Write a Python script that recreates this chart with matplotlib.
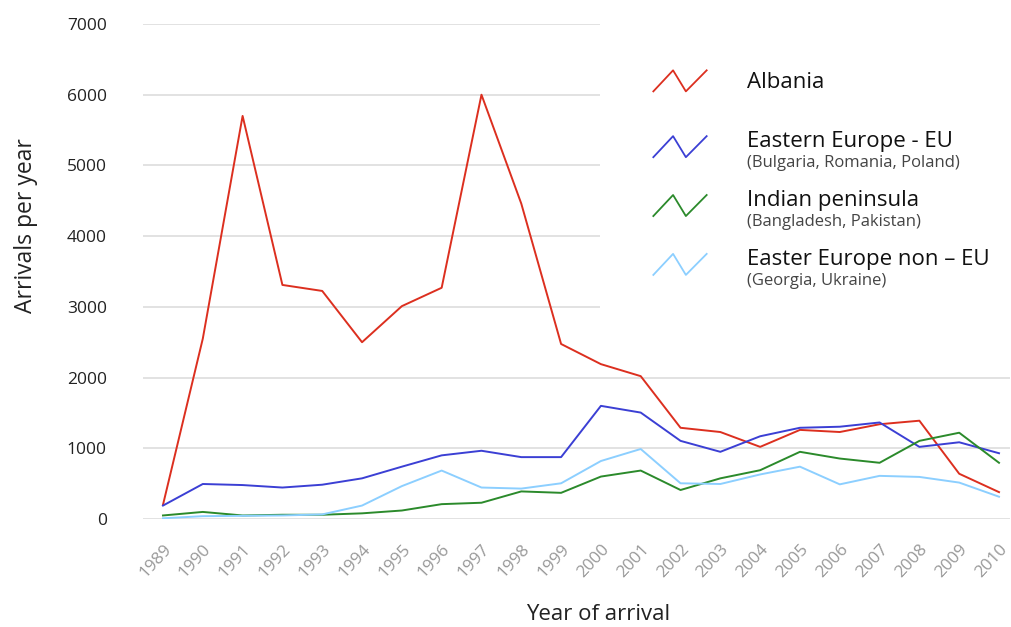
import matplotlib
matplotlib.use("Agg")
import matplotlib.pyplot as plt
from matplotlib.legend_handler import HandlerBase
from matplotlib.lines import Line2D

plt.rcParams['font.family'] = ['Open Sans', 'DejaVu Sans']

#------------------------------#
# Data
#------------------------------#

years = list(range(1989, 2011))

albania = [200, 2550, 5700, 3310, 3225, 2500, 3010, 3270, 6000, 4460, 2475,
           2190, 2020, 1290, 1230, 1020, 1260, 1230, 1340, 1390, 640, 380]
east_eu = [190, 495, 480, 445, 485, 575, 740, 900, 965, 875, 875,
           1600, 1505, 1105, 950, 1170, 1290, 1305, 1365, 1020, 1085, 930]
indian = [50, 100, 50, 60, 60, 80, 120, 210, 230, 390, 370,
          600, 685, 410, 575, 690, 950, 855, 795, 1105, 1220, 795]
east_non_eu = [10, 40, 45, 50, 65, 190, 465, 685, 445, 430, 505,
               820, 990, 505, 495, 630, 740, 490, 610, 595, 515, 315]

series = [albania, east_eu, indian, east_non_eu]
names = ["Albania", "Eastern Europe - EU", "Indian peninsula", "Easter Europe non \u2013 EU"]
subs = ["", "(Bulgaria, Romania, Poland)", "(Bangladesh, Pakistan)", "(Georgia, Ukraine)"]
colors = ["#dc2f1f", "#3b3fd4", "#2b8a2b", "#8ccfff"]

y_ticks = [0, 1000, 2000, 3000, 4000, 5000, 6000, 7000]


# Zigzag legend symbol
class ZigZag(HandlerBase):
	def __init__(self, dy=0.0):
		super().__init__()
		self.dy = dy

	def create_artists(self, legend, orig, xd, yd, w, h, fontsize, trans):
		xs = [-xd, -xd + 0.37 * w, -xd + 0.61 * w, -xd + w]
		y0 = -yd - self.dy
		ys = [y0, y0 + h, y0, y0 + h]
		ln = Line2D(xs, ys, color=orig.get_color(), lw=1.3, transform=trans)
		return [ln]


# Create the plot
fig = plt.figure(figsize=(10.11, 6.27), dpi=100)
ax = fig.add_axes([143 / 1011, 1 - 519 / 627, 867 / 1011, 495 / 627])

lines = []
for vals, name, c in zip(series, names, colors):
	ln, = ax.plot(years, vals, color=c, lw=1.4, label=name, zorder=3)
	lines.append(ln)

ax.set_xlim(1988.498, 2010.276)
ax.set_ylim(0, 7000)
ax.set_yticks(y_ticks)
ax.set_xticks(years)
ax.set_xticklabels([str(y) for y in years], rotation=47, ha='right',
                   rotation_mode='anchor', color='#999999', fontsize=12.3)
ax.tick_params(axis='y', length=0, pad=26, labelsize=12.5, labelcolor='#222222')
ax.tick_params(axis='x', length=0, pad=16)
for s in ax.spines.values():
	s.set_visible(False)
ax.grid(axis='y', color='#dddddd', lw=1.2, zorder=0)
ax.set_axisbelow(True)

ax.set_ylabel('Arrivals per year', fontsize=16.5, color='#222222')
ax.yaxis.set_label_coords((26 - 143) / 867, (519 - 226) / 495)
ax.yaxis.label.set_verticalalignment('center')
ax.set_xlabel('Year of arrival', fontsize=16, color='#222222')
ax.xaxis.set_label_coords((598 - 143) / 867, (519 - 615) / 495)
ax.xaxis.label.set_verticalalignment('center')

# Legend with sub captions
hmap = {ln: ZigZag(dy=(0 if s == "" else 5)) for ln, s in zip(lines, subs)}
leg = ax.legend(handles=lines, labels=names, handler_map=hmap,
                loc='upper left', bbox_to_anchor=(600 / 1011, 1 - 17 / 627),
                bbox_transform=fig.transFigure, fontsize=16,
                frameon=True, facecolor='white', edgecolor='none', framealpha=1,
                fancybox=False, borderpad=2.4, borderaxespad=0,
                handlelength=2.4, handleheight=1.08, handletextpad=1.8,
                labelspacing=1.61)
leg.set_zorder(5)
for t, s in zip(leg.get_texts(), subs):
	t.set_color('#111111')
	if s:
		ax.annotate(s, xy=(0, 0), xycoords=t, xytext=(0, -2), textcoords='offset points',
		            va='top', ha='left', fontsize=12, color='#444444', zorder=6)

fig.savefig('out.png', dpi=100)
